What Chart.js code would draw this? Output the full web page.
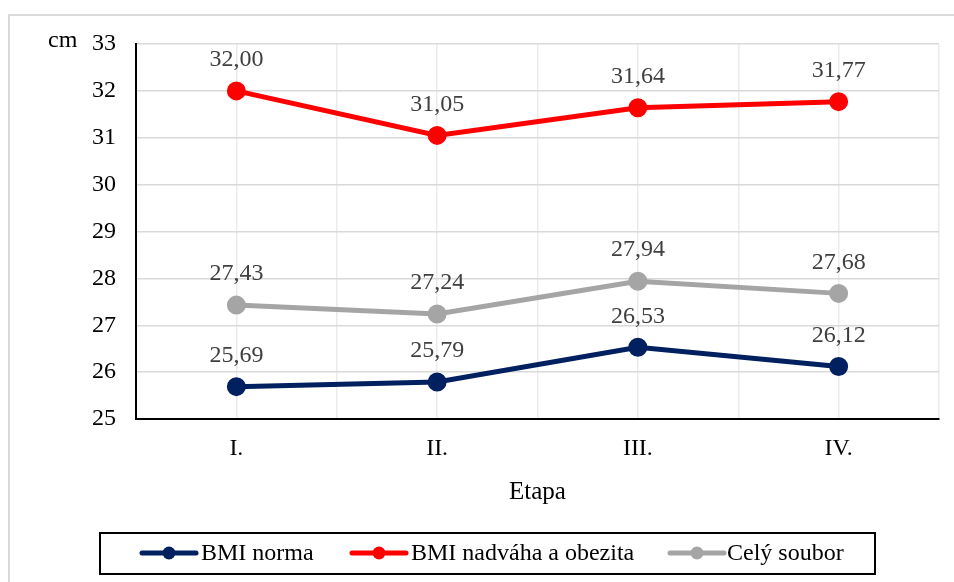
<!DOCTYPE html>
<html>
<head>
<meta charset="utf-8">
<script src="https://cdn.jsdelivr.net/npm/chart.js@4.4.1/dist/chart.umd.min.js"></script>
<style>
  html, body { margin: 0; padding: 0; background: #fff; }
  #wrap { width: 954px; height: 582px; position: relative; }
</style>
</head>
<body>
<div id="wrap"><canvas id="c" width="954" height="582"></canvas></div>
<script>
// Stages of the measurement
const categories = ['I.', 'II.', 'III.', 'IV.'];
// Waist values (cm) per group
const bmiNorma = [25.69, 25.79, 26.53, 26.12];
const bmiNadvaha = [32.00, 31.05, 31.64, 31.77];
const celySoubor = [27.43, 27.24, 27.94, 27.68];
const seriesNames = ['BMI norma', 'BMI nadváha a obezita', 'Celý soubor'];
const seriesColors = ['#002060', '#ff0000', '#a5a5a5'];
const yTicks = [25, 26, 27, 28, 29, 30, 31, 32, 33];

const FONT = '"Liberation Serif", "Times New Roman", serif';

const toPoints = arr => arr.map((v, i) => ({ x: i, y: v }));

const fmt = v => v.toFixed(2).replace('.', ',');

const decorations = {
  id: 'decorations',
  beforeDraw(chart) {
    const ctx = chart.ctx;
    ctx.save();
    ctx.fillStyle = '#fff';
    ctx.fillRect(0, 0, chart.width, chart.height);
    ctx.strokeStyle = '#d9d9d9';
    ctx.lineWidth = 2;
    ctx.strokeRect(9, 15, 1000, 700);
    ctx.restore();
  },
  afterDatasetsDraw(chart) {
    const ctx = chart.ctx;
    ctx.save();
    // value labels above each point
    ctx.font = '24px ' + FONT;
    ctx.fillStyle = '#404040';
    ctx.textAlign = 'center';
    ctx.textBaseline = 'middle';
    chart.data.datasets.forEach((ds, di) => {
      const meta = chart.getDatasetMeta(di);
      meta.data.forEach((pt, i) => {
        ctx.fillText(fmt(ds.data[i].y), pt.x, pt.y - 31);
      });
    });
    // unit and axis title
    ctx.fillStyle = '#000';
    ctx.font = '24px ' + FONT;
    ctx.textAlign = 'left';
    ctx.fillText('cm', 48, 41);
    ctx.textAlign = 'center';
    ctx.font = '25px ' + FONT;
    ctx.fillText('Etapa', (chart.chartArea.left + chart.chartArea.right) / 2, 492);
    // legend
    ctx.strokeStyle = '#000';
    ctx.lineWidth = 2;
    ctx.strokeRect(100, 533, 775, 41);
    const items = [
      { x0: 142, x1: 196, tx: 201 },
      { x0: 352, x1: 406, tx: 411 },
      { x0: 670, x1: 724, tx: 727 }
    ];
    ctx.textAlign = 'left';
    ctx.font = '24px ' + FONT;
    const ly = 553;
    items.forEach((it, i) => {
      ctx.strokeStyle = seriesColors[i];
      ctx.fillStyle = seriesColors[i];
      ctx.lineWidth = 5;
      ctx.lineCap = 'round';
      ctx.beginPath();
      ctx.moveTo(it.x0, ly);
      ctx.lineTo(it.x1, ly);
      ctx.stroke();
      ctx.beginPath();
      ctx.arc((it.x0 + it.x1) / 2, ly, 6.5, 0, Math.PI * 2);
      ctx.fill();
      ctx.fillStyle = '#000';
      ctx.fillText(seriesNames[i], it.tx, ly + 1);
    });
    ctx.restore();
  }
};

const mkDs = (label, data, color) => ({
  label,
  data: toPoints(data),
  borderColor: color,
  backgroundColor: color,
  pointBackgroundColor: color,
  pointBorderColor: color,
  borderWidth: 5,
  pointRadius: 7,
  pointHoverRadius: 7,
  tension: 0
});

new Chart(document.getElementById('c'), {
  type: 'line',
  data: {
    datasets: [
      mkDs(seriesNames[0], bmiNorma, seriesColors[0]),
      mkDs(seriesNames[1], bmiNadvaha, seriesColors[1]),
      mkDs(seriesNames[2], celySoubor, seriesColors[2])
    ]
  },
  options: {
    responsive: false,
    animation: false,
    events: [],
    layout: { padding: { top: 44, right: 14, left: 0, bottom: 0 } },
    plugins: { legend: { display: false }, tooltip: { enabled: false } },
    scales: {
      x: {
        type: 'linear',
        min: -0.5,
        max: categories.length - 0.5,
        afterBuildTicks(scale) {
          const t = [];
          for (let v = -0.5; v <= categories.length - 0.5 + 1e-9; v += 0.5) t.push({ value: v });
          scale.ticks = t;
        },
        afterFit(scale) { scale.height = 163; },
        ticks: {
          autoSkip: false,
          maxRotation: 0,
          padding: 15,
          color: '#000',
          font: { family: FONT, size: 24 },
          callback: v => (Number.isInteger(v) ? categories[v] : '')
        },
        grid: { color: '#ebebeb', lineWidth: 1.5, drawTicks: false },
        border: { color: '#000', width: 2 }
      },
      y: {
        min: yTicks[0],
        max: yTicks[yTicks.length - 1],
        afterBuildTicks(scale) { scale.ticks = yTicks.map(v => ({ value: v })); },
        afterFit(scale) { scale.width = 136; },
        ticks: {
          padding: 20,
          color: '#000',
          font: { family: FONT, size: 24 }
        },
        grid: { color: '#d9d9d9', lineWidth: 1.5, drawTicks: false },
        border: { color: '#000', width: 2 }
      }
    }
  },
  plugins: [decorations]
});
</script>
</body>
</html>
